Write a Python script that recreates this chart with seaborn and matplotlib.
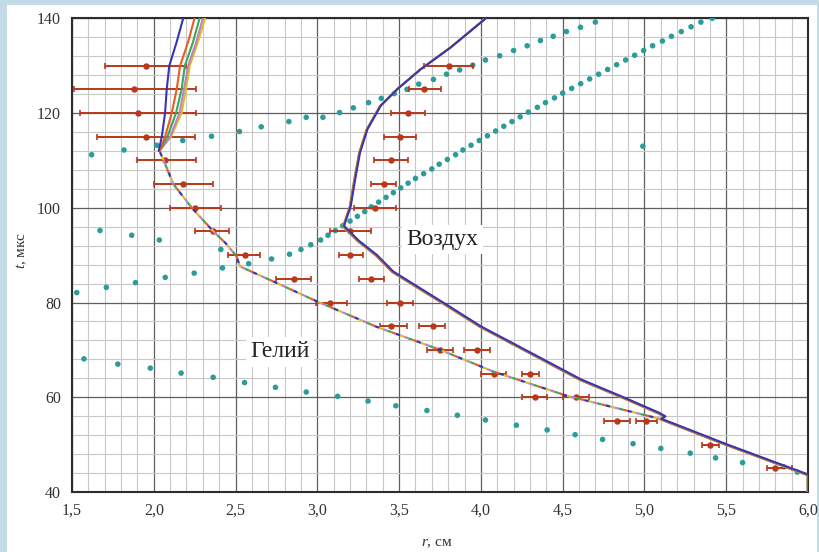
import matplotlib
matplotlib.use("Agg")
import numpy as np
import pandas as pd
import seaborn as sns
import matplotlib.pyplot as plt
from matplotlib.patches import Rectangle
from matplotlib.ticker import MultipleLocator, FuncFormatter
import matplotlib.transforms as mtransforms

# ---------------- data ----------------
# experimental points, helium
he_exp_t = [130, 125, 120, 115, 110, 105, 100, 95, 90, 85, 80, 75, 70, 65, 60, 55, 50, 45]
he_exp_r = [1.95, 1.88, 1.905, 1.95, 2.07, 2.18, 2.25, 2.36, 2.555, 2.855, 3.08, 3.45, 3.75, 4.08, 4.33, 4.83, 5.40, 5.80]
he_exp_lo = [1.70, 1.51, 1.55, 1.65, 1.90, 2.00, 2.10, 2.255, 2.455, 2.75, 2.99, 3.385, 3.67, 4.00, 4.25, 4.75, 5.35, 5.75]
he_exp_hi = [2.20, 2.26, 2.26, 2.255, 2.26, 2.36, 2.41, 2.46, 2.65, 2.96, 3.18, 3.55, 3.83, 4.155, 4.405, 4.91, 5.455, 5.90]

# experimental points, air
air_exp_t = [130, 125, 120, 115, 110, 105, 100, 95, 90, 85, 80, 75, 70, 65, 60, 55]
air_exp_r = [3.805, 3.654, 3.552, 3.503, 3.452, 3.405, 3.354, 3.20, 3.201, 3.328, 3.503, 3.705, 3.977, 4.303, 4.582, 5.007]
air_exp_lo = [3.65, 3.558, 3.45, 3.405, 3.348, 3.328, 3.226, 3.079, 3.13, 3.253, 3.426, 3.624, 3.899, 4.252, 4.50, 4.947]
air_exp_hi = [3.952, 3.757, 3.656, 3.603, 3.554, 3.481, 3.483, 3.328, 3.279, 3.405, 3.585, 3.783, 4.058, 4.354, 4.66, 5.078]

# teal dotted series
lower_r = [1.573, 1.78, 1.979, 2.167, 2.363, 2.555, 2.744, 2.932, 3.124, 3.31, 3.48, 3.67, 3.856,
           4.028, 4.217, 4.405, 4.576, 4.744, 4.93, 5.10, 5.28, 5.435, 5.60, 5.853, 5.935]
lower_t = [68.1, 67.0, 66.15, 65.1, 64.2, 63.1, 62.1, 61.1, 60.2, 59.2, 58.2, 57.2, 56.2,
           55.2, 54.1, 53.1, 52.1, 51.1, 50.2, 49.2, 48.2, 47.2, 46.2, 45.3, 44.2]

down_r = [1.671, 1.865, 2.034, 2.41]
down_t = [95.2, 94.2, 93.2, 91.2]

refl_r = [1.529, 1.71, 1.888, 2.07, 2.247, 2.42, 2.58, 2.72, 2.83, 2.90, 2.96, 3.02, 3.065, 3.11,
          3.155, 3.20, 3.245, 3.29, 3.33, 3.375, 3.42, 3.465, 3.51, 3.555, 3.60, 3.65, 3.70, 3.745,
          3.795, 3.845, 3.89, 3.94, 3.99, 4.04, 4.09, 4.14, 4.19, 4.24, 4.29, 4.345, 4.395, 4.45,
          4.50, 4.555, 4.61, 4.665, 4.72, 4.775, 4.83, 4.885, 4.94, 4.995, 5.05, 5.11, 5.165,
          5.225, 5.285, 5.345, 5.415]
refl_t = [82.1, 83.2, 84.2, 85.3, 86.2, 87.3, 88.2, 89.2, 90.2, 91.2, 92.2, 93.2, 94.2, 95.2,
          96.2, 97.2, 98.2, 99.2, 100.2, 101.2, 102.2, 103.2, 104.2, 105.2, 106.2, 107.2, 108.2, 109.2,
          110.2, 111.2, 112.2, 113.2, 114.2, 115.2, 116.2, 117.2, 118.2, 119.2, 120.2, 121.2, 122.2, 123.2,
          124.2, 125.2, 126.2, 127.2, 128.2, 129.2, 130.2, 131.2, 132.2, 133.2, 134.2, 135.2, 136.2,
          137.2, 138.2, 139.2, 140.0]

upper_r = [1.62, 1.818, 2.018, 2.177, 2.353, 2.524, 2.657, 2.826, 2.932, 3.034, 3.136, 3.22, 3.313,
           3.391, 3.47, 3.548, 3.62, 3.71, 3.79, 3.87, 3.95, 4.028, 4.115, 4.2, 4.283, 4.364, 4.442,
           4.523, 4.609, 4.70]
upper_t = [111.2, 112.2, 113.2, 114.2, 115.1, 116.1, 117.1, 118.2, 119.1, 119.1, 120.1, 121.1, 122.2,
           123.1, 124.1, 125.0, 126.1, 127.1, 128.2, 129.1, 130.1, 131.2, 132.1, 133.2, 134.2, 135.3, 136.2,
           137.2, 138.1, 139.2]

single_r = [4.99]
single_t = [113.0]

# computed curves, helium: common lower part + five diverging tops
he_base_r = [6.0, 6.0, 5.5, 5.1, 4.527, 4.078, 3.752, 3.36, 3.0, 2.753, 2.528, 2.505, 2.44, 2.365,
             2.232, 2.12, 2.06, 2.035]
he_base_t = [40, 43.6, 50, 55.4, 60.3, 65.4, 70, 74.9, 80.2, 84.1, 87.6, 89.8, 92.5, 95,
             100, 105, 110, 112]
he_top_t = [112, 115, 120, 125, 130, 135, 140]
he_top_r = {
    "yellow": [2.035, 2.105, 2.17, 2.197, 2.22, 2.27, 2.314],
    "pink":   [2.035, 2.10, 2.157, 2.185, 2.21, 2.26, 2.30],
    "green":  [2.035, 2.083, 2.136, 2.17, 2.19, 2.24, 2.28],
    "red":    [2.035, 2.069, 2.11, 2.14, 2.161, 2.21, 2.249],
    "blue":   [2.030, 2.049, 2.069, 2.079, 2.095, 2.14, 2.18],
}

# computed curve, air
air_r = [6.0, 6.0, 5.5, 5.1, 5.125, 5.09, 4.878, 4.609, 4.32, 3.997, 3.763, 3.46, 3.36, 3.25, 3.16,
         3.201, 3.232, 3.258, 3.303, 3.385, 3.487, 3.63, 3.813, 4.03]
air_t = [40, 43.6, 50, 55.4, 55.9, 56.6, 59.8, 63.7, 69, 74.9, 80, 86.5, 90, 93, 96.1,
         100.3, 106.7, 111.6, 116.5, 121.5, 125, 129.2, 133.8, 140]

x_ticks = [1.5, 2.0, 2.5, 3.0, 3.5, 4.0, 4.5, 5.0, 5.5, 6.0]
y_ticks = [40, 60, 80, 100, 120, 140]

# ---------------- style ----------------
sns.set_style("white")
plt.rcParams["font.family"] = ["Liberation Serif", "DejaVu Serif"]
plt.rcParams["mathtext.fontset"] = "custom"
plt.rcParams["mathtext.it"] = "Liberation Serif:italic"
plt.rcParams["mathtext.rm"] = "Liberation Serif"

line_colors = {"yellow": "#d6c21e", "pink": "#c77cc8", "green": "#2fae55",
               "red": "#ee5a24", "blue": "#3535b8"}
teal = "#2b9c9a"
exp_color = "#b9381a"

fig = plt.figure(figsize=(8.19, 5.52), dpi=100)
fig.patch.set_facecolor("#c3dbe6")
fig.add_artist(Rectangle((7 / 819, 0), 810 / 819, 547 / 552, transform=fig.transFigure,
                         facecolor="white", edgecolor="none", zorder=-10))
ax = fig.add_axes([72 / 819, 1 - 492 / 552, 736 / 819, (492 - 18.3) / 552])
ax.set_facecolor("white")

# teal dotted series
for rr, tt in [(lower_r, lower_t), (down_r, down_t), (refl_r, refl_t), (upper_r, upper_t), (single_r, single_t)]:
    sns.scatterplot(x=rr, y=tt, ax=ax, color=teal, s=16, edgecolor="none", zorder=3)

# experimental points with error bars
for rr, tt, lo, hi in [(he_exp_r, he_exp_t, he_exp_lo, he_exp_hi), (air_exp_r, air_exp_t, air_exp_lo, air_exp_hi)]:
    rr_a = np.array(rr)
    xerr = [rr_a - np.array(lo), np.array(hi) - rr_a]
    ax.errorbar(rr, tt, xerr=xerr, fmt="o", color=exp_color, ms=3.6, elinewidth=1.4,
                capsize=2.2, capthick=1.2, zorder=4)

# helium common part: interleaved dashes of all colours
order = ["yellow", "pink", "green", "red", "blue"]
base_df = pd.DataFrame({"r": he_base_r, "t": he_base_t})
for i, name in enumerate(order):
    sns.lineplot(data=base_df, x="r", y="t", sort=False, estimator=None, ax=ax,
                 color=line_colors[name], lw=1.6, linestyle=(2 * i, (2, 8)), zorder=5)
    top_df = pd.DataFrame({"r": he_top_r[name], "t": he_top_t})
    sns.lineplot(data=top_df, x="r", y="t", sort=False, estimator=None, ax=ax,
                 color=line_colors[name], lw=1.5, zorder=5)

# air curves, very slightly offset so the colours show at the edges
air_df = pd.DataFrame({"r": air_r, "t": air_t})
shifts = {"yellow": -0.6, "pink": -0.4, "green": -0.2, "red": 0.0, "blue": 0.6}
for name in order:
    tr = mtransforms.offset_copy(ax.transData, fig=fig, x=shifts[name], y=shifts[name] * 0.6, units="dots")
    sns.lineplot(data=air_df, x="r", y="t", sort=False, estimator=None, ax=ax,
                 color=line_colors[name], lw=1.4, zorder=5, transform=tr)

# axes styling
ax.set_xlim(1.5, 6.0)
ax.set_ylim(40, 140)
ax.set_xticks(x_ticks)
ax.set_yticks(y_ticks)
ax.xaxis.set_minor_locator(MultipleLocator(0.1))
ax.yaxis.set_minor_locator(MultipleLocator(4))
ax.xaxis.set_major_formatter(FuncFormatter(lambda v, p: f"{v:.1f}".replace(".", ",")))
ax.grid(which="major", color="#5f5f5f", lw=0.9)
ax.grid(which="minor", color="#c8c8c8", lw=0.8)
ax.set_axisbelow(True)
ax.tick_params(which="major", direction="out", length=4, width=1, labelsize=11.5,
               colors="#333333", labelcolor="#333333", pad=4)
ax.tick_params(which="minor", length=0)
for s in ax.spines.values():
    s.set_visible(True)
    s.set_color("#2d2d2d")
    s.set_linewidth(1.5)
ax.set_xlabel("")
ax.set_ylabel("")

ax.text(3.764, 93.3, "Воздух", fontsize=17, ha="center", va="center", color="#222222",
        bbox=dict(facecolor="white", edgecolor="none", pad=3), zorder=6)
ax.text(2.773, 69.6, "Гелий", fontsize=17, ha="center", va="center", color="#222222",
        bbox=dict(facecolor="white", edgecolor="none", pad=3), zorder=6)

fig.text(22 / 819, 1 - 250 / 552, "$t$, мкс", rotation=90, ha="center", va="center",
         fontsize=11, color="#333333")
fig.text(437 / 819, 1 - 544 / 552, "$r$, см", ha="center", va="center",
         fontsize=11, color="#333333")

fig.savefig("out.png", dpi=100, facecolor=fig.get_facecolor())
